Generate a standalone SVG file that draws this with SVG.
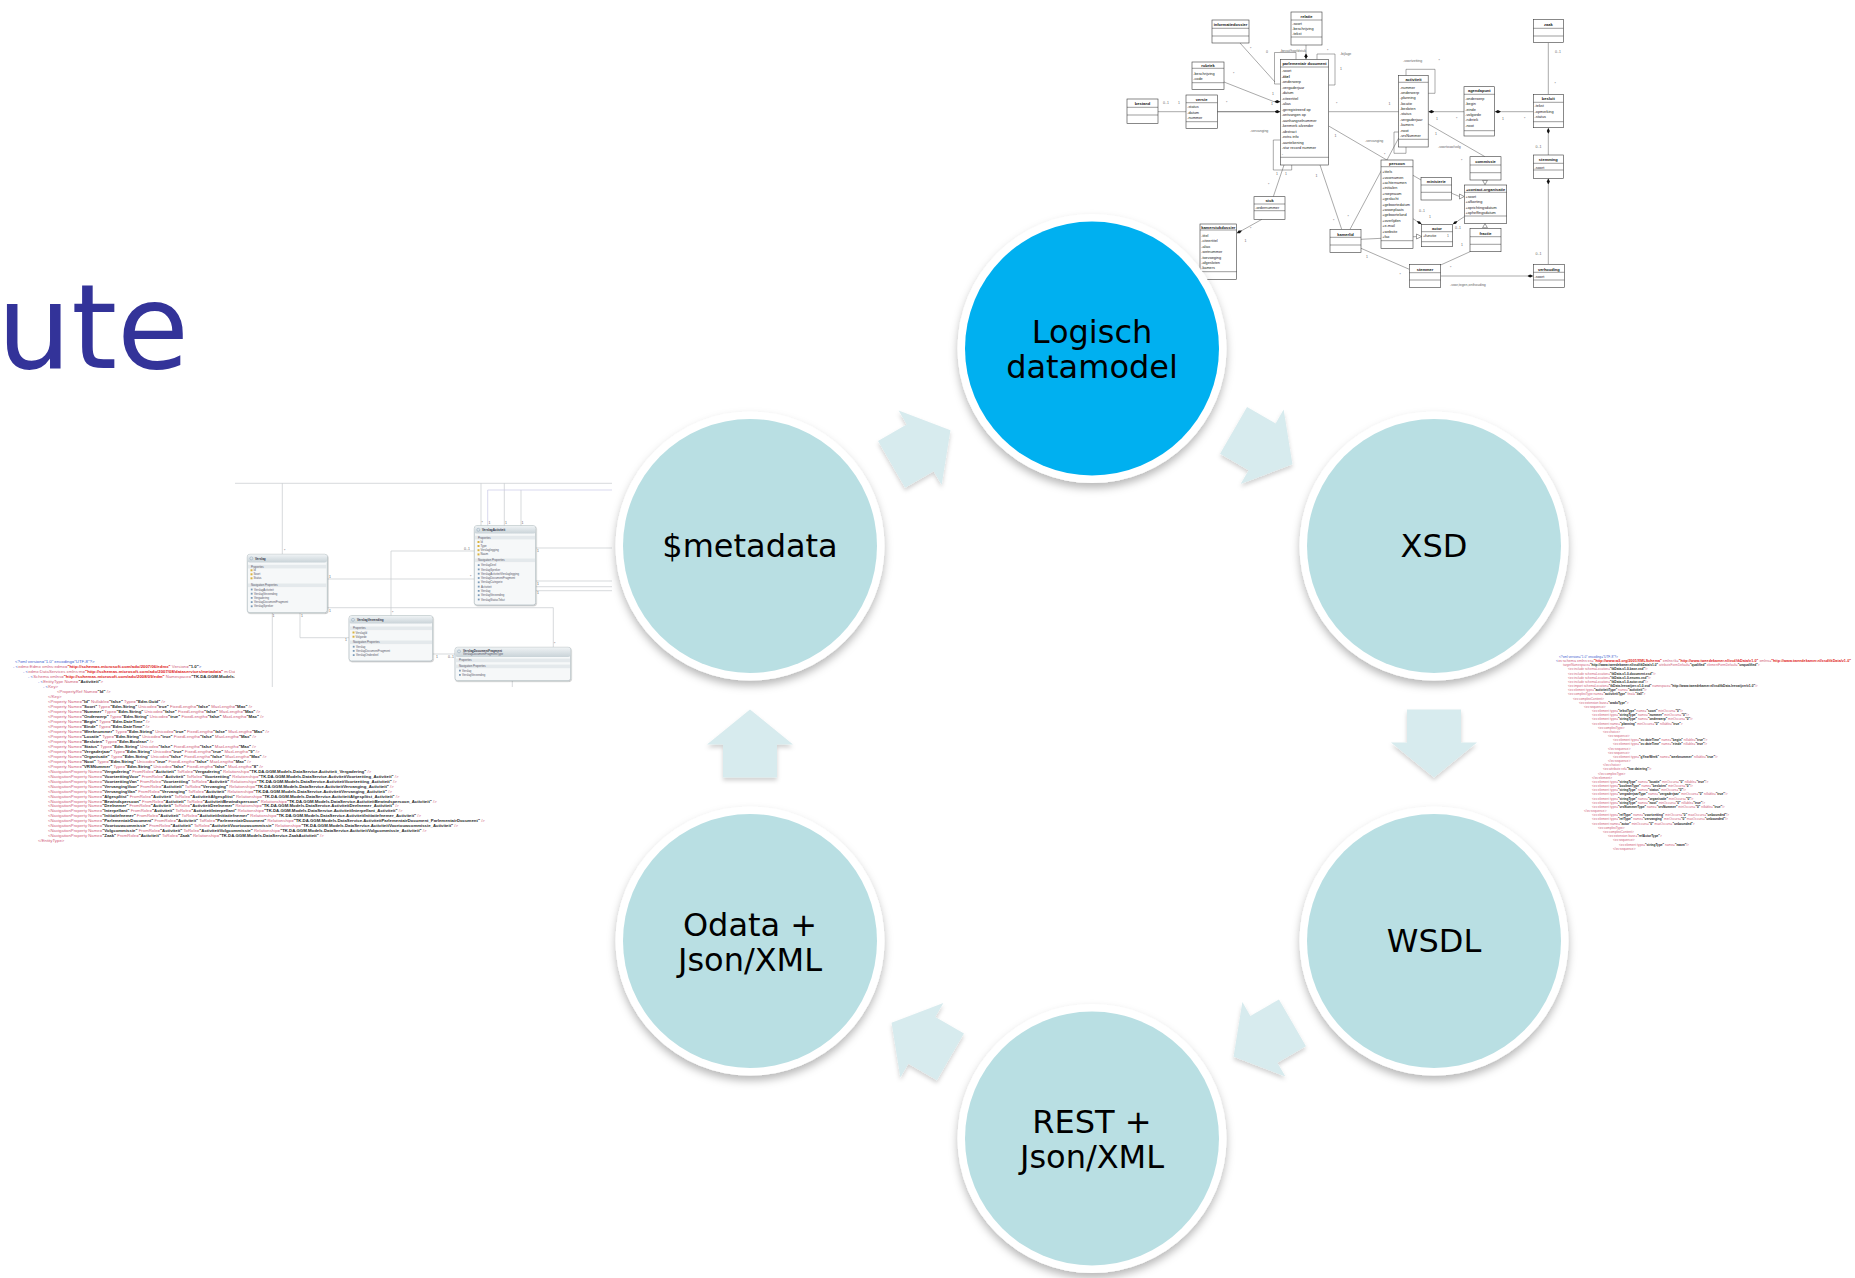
<svg xmlns="http://www.w3.org/2000/svg" width="1855" height="1278" viewBox="0 0 1855 1278">
<defs>
<style>
.lbl{font-family:"DejaVu Sans",Verdana,sans-serif;font-size:32px;fill:#000;text-anchor:middle}
.ttl{font-family:"DejaVu Sans",Verdana,sans-serif;font-size:117px;fill:#333399}
.ring{fill:#fff}
.tealc{fill:#b9dfe3}
.bluec{fill:#00b0f0}
.arr{fill:#d7ebee}
.ub{fill:#fff;stroke:#3a3a3a;stroke-width:.6}
.us{fill:none;stroke:#3a3a3a;stroke-width:.5}
.ul{fill:none;stroke:#555;stroke-width:.5}
.ut{font-family:"Liberation Sans",Arial,sans-serif;font-size:4px;font-weight:bold;text-anchor:middle;fill:#111}
.ua{font-family:"Liberation Sans",Arial,sans-serif;font-size:3.8px;fill:#222}
.um{font-family:"Liberation Sans",Arial,sans-serif;font-size:3.5px;fill:#666}
.dm{fill:#111}
.tri{fill:#fff;stroke:#3a3a3a;stroke-width:.5}
.eb{fill:#f6f8f9;stroke:#a3b0b6;stroke-width:.6}
.eh{fill:url(#eg)}
.band{fill:#e4e9ec}
.el{fill:none;stroke:#c6cacd;stroke-width:.7}
.et{font-family:"Liberation Sans",Arial,sans-serif;font-size:2.8px;fill:#556}
.etb{font-family:"Liberation Sans",Arial,sans-serif;font-size:3px;font-weight:bold;fill:#334}
.ic{fill:#d9b340}
.ic2{fill:#7a9ab8}
.x{font-family:"Liberation Sans",Arial,sans-serif;font-size:4.3px;fill:#d0607a}
.xs{font-family:"Liberation Sans",Arial,sans-serif;font-size:3.2px;fill:#d0607a}
.v{font-weight:bold;fill:#2a2a2a}
.r{font-weight:bold;fill:#e02020}
.b{fill:#4060d0}
</style>
<linearGradient id="eg" x1="0" y1="0" x2="0" y2="1"><stop offset="0" stop-color="#eef2f4"/><stop offset="1" stop-color="#c9d3d8"/></linearGradient>
<filter id="cs" x="-15%" y="-15%" width="130%" height="135%"><feDropShadow dx="0" dy="5" stdDeviation="4" flood-color="#000" flood-opacity=".28"/></filter>
<filter id="as" x="-20%" y="-20%" width="140%" height="150%"><feDropShadow dx="0" dy="3" stdDeviation="2" flood-color="#000" flood-opacity=".18"/></filter>
<filter id="es" x="-10%" y="-10%" width="120%" height="130%"><feDropShadow dx="0.6" dy="0.8" stdDeviation="0.6" flood-color="#000" flood-opacity=".3"/></filter>
<polygon id="arrow" points="34,0 -1,-43 -1,-27 -34,-27 -34,27 -1,27 -1,43"/>
</defs>
<rect x="0" y="0" width="1855" height="1278" fill="#fff"/>
<text class="ttl" x="-3" y="368">ute</text>

<!-- Left XML ($metadata) -->
<g id="xml-metadata" class="x">
<text x="15" y="663.3" class="b">&lt;?xml version="1.0" encoding="UTF-8"?&gt;</text>
<text x="13" y="668.3"><tspan class="b">- &lt;</tspan>edmx:Edmx xmlns:edmx=<tspan class="r">"http://schemas.microsoft.com/ado/2007/06/edmx"</tspan> Version=<tspan class="v">"1.0"</tspan><tspan class="b">&gt;</tspan></text>
<text x="23" y="673.2"><tspan class="b">- &lt;</tspan>edmx:DataServices xmlns:m=<tspan class="r">"http://schemas.microsoft.com/ado/2007/08/dataservices/metadata"</tspan> m:DataServiceVersion=<tspan class="v">"1.0"</tspan>&gt;</text>
<text x="28" y="678.2"><tspan class="b">- &lt;</tspan>Schema xmlns=<tspan class="r">"http://schemas.microsoft.com/ado/2008/09/edm"</tspan> Namespace=<tspan class="v">"TK.DA.GGM.Models.DataService"</tspan>&gt;</text>
<text x="38" y="683.2"><tspan class="b">- &lt;</tspan>EntityType Name=<tspan class="v">"Activiteit"</tspan>&gt;</text>
<text x="43" y="688.2"><tspan class="b">- &lt;</tspan>Key&gt;</text>
<text x="57" y="693.1">&lt;PropertyRef Name=<tspan class="v">"Id"</tspan> /&gt;</text>
<text x="48" y="698.1">&lt;/Key&gt;</text>
<text x="48" y="703.1">&lt;Property Name=<tspan class="v">"Id"</tspan> Nullable=<tspan class="v">"false"</tspan> Type=<tspan class="v">"Edm.Guid"</tspan> /&gt;</text>
<text x="48" y="708.0">&lt;Property Name=<tspan class="v">"Soort"</tspan> Type=<tspan class="v">"Edm.String"</tspan> Unicode=<tspan class="v">"true"</tspan> FixedLength=<tspan class="v">"false"</tspan> MaxLength=<tspan class="v">"Max"</tspan> /&gt;</text>
<text x="48" y="713.0">&lt;Property Name=<tspan class="v">"Nummer"</tspan> Type=<tspan class="v">"Edm.String"</tspan> Unicode=<tspan class="v">"false"</tspan> FixedLength=<tspan class="v">"false"</tspan> MaxLength=<tspan class="v">"Max"</tspan> /&gt;</text>
<text x="48" y="718.0">&lt;Property Name=<tspan class="v">"Onderwerp"</tspan> Type=<tspan class="v">"Edm.String"</tspan> Unicode=<tspan class="v">"true"</tspan> FixedLength=<tspan class="v">"false"</tspan> MaxLength=<tspan class="v">"Max"</tspan> /&gt;</text>
<text x="48" y="722.9">&lt;Property Name=<tspan class="v">"Begin"</tspan> Type=<tspan class="v">"Edm.DateTime"</tspan> /&gt;</text>
<text x="48" y="727.9">&lt;Property Name=<tspan class="v">"Einde"</tspan> Type=<tspan class="v">"Edm.DateTime"</tspan> /&gt;</text>
<text x="48" y="732.9">&lt;Property Name=<tspan class="v">"Weeknummer"</tspan> Type=<tspan class="v">"Edm.String"</tspan> Unicode=<tspan class="v">"true"</tspan> FixedLength=<tspan class="v">"false"</tspan> MaxLength=<tspan class="v">"Max"</tspan> /&gt;</text>
<text x="48" y="737.9">&lt;Property Name=<tspan class="v">"Locatie"</tspan> Type=<tspan class="v">"Edm.String"</tspan> Unicode=<tspan class="v">"true"</tspan> FixedLength=<tspan class="v">"false"</tspan> MaxLength=<tspan class="v">"Max"</tspan> /&gt;</text>
<text x="48" y="742.8">&lt;Property Name=<tspan class="v">"Besloten"</tspan> Type=<tspan class="v">"Edm.Boolean"</tspan> /&gt;</text>
<text x="48" y="747.8">&lt;Property Name=<tspan class="v">"Status"</tspan> Type=<tspan class="v">"Edm.String"</tspan> Unicode=<tspan class="v">"false"</tspan> FixedLength=<tspan class="v">"false"</tspan> MaxLength=<tspan class="v">"Max"</tspan> /&gt;</text>
<text x="48" y="752.8">&lt;Property Name=<tspan class="v">"Vergaderjaar"</tspan> Type=<tspan class="v">"Edm.String"</tspan> Unicode=<tspan class="v">"true"</tspan> FixedLength=<tspan class="v">"true"</tspan> MaxLength=<tspan class="v">"9"</tspan> /&gt;</text>
<text x="48" y="757.7">&lt;Property Name=<tspan class="v">"Organisatie"</tspan> Type=<tspan class="v">"Edm.String"</tspan> Unicode=<tspan class="v">"false"</tspan> FixedLength=<tspan class="v">"false"</tspan> MaxLength=<tspan class="v">"Max"</tspan> /&gt;</text>
<text x="48" y="762.7">&lt;Property Name=<tspan class="v">"Noot"</tspan> Type=<tspan class="v">"Edm.String"</tspan> Unicode=<tspan class="v">"true"</tspan> FixedLength=<tspan class="v">"false"</tspan> MaxLength=<tspan class="v">"Max"</tspan> /&gt;</text>
<text x="48" y="767.7">&lt;Property Name=<tspan class="v">"VRSNummer"</tspan> Type=<tspan class="v">"Edm.String"</tspan> Unicode=<tspan class="v">"false"</tspan> FixedLength=<tspan class="v">"false"</tspan> MaxLength=<tspan class="v">"8"</tspan> /&gt;</text>
<text x="48" y="772.6">&lt;NavigationProperty Name=<tspan class="v">"Vergadering"</tspan> FromRole=<tspan class="v">"Activiteit"</tspan> ToRole=<tspan class="v">"Vergadering"</tspan> Relationship=<tspan class="v">"TK.DA.GGM.Models.DataService.Activiteit_Vergadering"</tspan> /&gt;</text>
<text x="48" y="777.6">&lt;NavigationProperty Name=<tspan class="v">"VoortzettingVoor"</tspan> FromRole=<tspan class="v">"Activiteit"</tspan> ToRole=<tspan class="v">"Voortzetting"</tspan> Relationship=<tspan class="v">"TK.DA.GGM.Models.DataService.ActiviteitVoortzetting_Activiteit"</tspan> /&gt;</text>
<text x="48" y="782.6">&lt;NavigationProperty Name=<tspan class="v">"VoortzettingVan"</tspan> FromRole=<tspan class="v">"Voortzetting"</tspan> ToRole=<tspan class="v">"Activiteit"</tspan> Relationship=<tspan class="v">"TK.DA.GGM.Models.DataService.ActiviteitVoortzetting_Activiteit"</tspan> /&gt;</text>
<text x="48" y="787.6">&lt;NavigationProperty Name=<tspan class="v">"VervangingVoor"</tspan> FromRole=<tspan class="v">"Activiteit"</tspan> ToRole=<tspan class="v">"Vervanging"</tspan> Relationship=<tspan class="v">"TK.DA.GGM.Models.DataService.ActiviteitVervanging_Activiteit"</tspan> /&gt;</text>
<text x="48" y="792.5">&lt;NavigationProperty Name=<tspan class="v">"VervangingVan"</tspan> FromRole=<tspan class="v">"Vervanging"</tspan> ToRole=<tspan class="v">"Activiteit"</tspan> Relationship=<tspan class="v">"TK.DA.GGM.Models.DataService.ActiviteitVervanging_Activiteit"</tspan> /&gt;</text>
<text x="48" y="797.5">&lt;NavigationProperty Name=<tspan class="v">"Afgesplitst"</tspan> FromRole=<tspan class="v">"Activiteit"</tspan> ToRole=<tspan class="v">"ActiviteitAfgesplitst"</tspan> Relationship=<tspan class="v">"TK.DA.GGM.Models.DataService.ActiviteitAfgesplitst_Activiteit"</tspan> /&gt;</text>
<text x="48" y="802.5">&lt;NavigationProperty Name=<tspan class="v">"Bewindspersoon"</tspan> FromRole=<tspan class="v">"Activiteit"</tspan> ToRole=<tspan class="v">"ActiviteitBewindspersoon"</tspan> Relationship=<tspan class="v">"TK.DA.GGM.Models.DataService.ActiviteitBewindspersoon_Activiteit"</tspan> /&gt;</text>
<text x="48" y="807.4">&lt;NavigationProperty Name=<tspan class="v">"Deelnemer"</tspan> FromRole=<tspan class="v">"Activiteit"</tspan> ToRole=<tspan class="v">"ActiviteitDeelnemer"</tspan> Relationship=<tspan class="v">"TK.DA.GGM.Models.DataService.ActiviteitDeelnemer_Activiteit"</tspan> /&gt;</text>
<text x="48" y="812.4">&lt;NavigationProperty Name=<tspan class="v">"Interpellant"</tspan> FromRole=<tspan class="v">"Activiteit"</tspan> ToRole=<tspan class="v">"ActiviteitInterpellant"</tspan> Relationship=<tspan class="v">"TK.DA.GGM.Models.DataService.ActiviteitInterpellant_Activiteit"</tspan> /&gt;</text>
<text x="48" y="817.4">&lt;NavigationProperty Name=<tspan class="v">"Initiatiefnemer"</tspan> FromRole=<tspan class="v">"Activiteit"</tspan> ToRole=<tspan class="v">"ActiviteitInitiatiefnemer"</tspan> Relationship=<tspan class="v">"TK.DA.GGM.Models.DataService.ActiviteitInitiatiefnemer_Activiteit"</tspan> /&gt;</text>
<text x="48" y="822.3">&lt;NavigationProperty Name=<tspan class="v">"ParlementairDocument"</tspan> FromRole=<tspan class="v">"Activiteit"</tspan> ToRole=<tspan class="v">"ParlementairDocument"</tspan> Relationship=<tspan class="v">"TK.DA.GGM.Models.DataService.ActiviteitParlementairDocument_ParlementairDocument"</tspan> /&gt;</text>
<text x="48" y="827.3">&lt;NavigationProperty Name=<tspan class="v">"Voortouwcommissie"</tspan> FromRole=<tspan class="v">"Activiteit"</tspan> ToRole=<tspan class="v">"ActiviteitVoortouwcommissie"</tspan> Relationship=<tspan class="v">"TK.DA.GGM.Models.DataService.ActiviteitVoortouwcommissie_Activiteit"</tspan> /&gt;</text>
<text x="48" y="832.3">&lt;NavigationProperty Name=<tspan class="v">"Volgcommissie"</tspan> FromRole=<tspan class="v">"Activiteit"</tspan> ToRole=<tspan class="v">"ActiviteitVolgcommissie"</tspan> Relationship=<tspan class="v">"TK.DA.GGM.Models.DataService.ActiviteitVolgcommissie_Activiteit"</tspan> /&gt;</text>
<text x="48" y="837.3">&lt;NavigationProperty Name=<tspan class="v">"Zaak"</tspan> FromRole=<tspan class="v">"Activiteit"</tspan> ToRole=<tspan class="v">"Zaak"</tspan> Relationship=<tspan class="v">"TK.DA.GGM.Models.DataService.ZaakActiviteit"</tspan> /&gt;</text>
<text x="38" y="842.2">&lt;/EntityType&gt;</text>
</g>

<!-- Left entity diagram -->
<g id="entity-diagram">
<rect x="235" y="483" width="377" height="204" fill="#fff"/>
<path class="el" d="M235 483.3H612"/>
<path class="el" d="M282.3 483.3V554.3M481 483.3V525.7M504.3 483.3V525.7M521 490V525.7M535.7 548H612M535.7 581H612M535.7 586.7H612M535.7 590.7H612M327.3 579H474.3M474.3 551H391V615.7M327.3 607.7H553.3V647.3M300 612.7V637.7H349M272.3 612.7V687M432.7 654H455M512.3 680.7V687"/>
<path d="M487.7 525.7V490H612" fill="none" stroke="#c9c9e6" stroke-width=".7"/>
<g class="um" font-size="2.8">
<text x="284" y="552">*</text><text x="464" y="550">0..1</text><text x="329" y="577.6">1</text><text x="470" y="577.6">*</text><text x="329" y="611.5">1</text><text x="272.5" y="616.5">1</text><text x="301" y="616.5">1</text><text x="392" y="614">*</text><text x="345" y="641">1</text><text x="436" y="658">1</text><text x="448" y="658">0..1</text><text x="554" y="645">*</text><text x="481.5" y="524">*</text><text x="488.5" y="524">1</text><text x="505" y="524">1</text><text x="521.5" y="524">1</text><text x="537" y="552">1</text><text x="537" y="584.5">1</text><text x="537" y="594">1</text>
</g>
<g id="e-verslag" filter="url(#es)">
<rect x="247.3" y="554.3" width="80" height="58.4" rx="2.5" class="eb"/>
<rect x="247.6" y="554.6" width="79.4" height="7.8" rx="2.2" class="eh"/>
</g>
<circle cx="251.3" cy="558.4" r="1.5" fill="none" stroke="#7a98b0" stroke-width=".4"/>
<text class="etb" x="255" y="559.6">Verslag</text>
<rect x="248" y="564.8" width="78.6" height="3.6" class="band"/><text class="et" x="251" y="567.6">Properties</text>
<rect x="250.5" y="569.3" width="2" height="2" class="ic"/><text class="et" x="253.5" y="571.4">Id</text>
<rect x="250.5" y="573.3" width="2" height="2" class="ic"/><text class="et" x="253.5" y="575.4">Soort</text>
<rect x="250.5" y="577.3" width="2" height="2" class="ic"/><text class="et" x="253.5" y="579.4">Status</text>
<rect x="248" y="583.5" width="78.6" height="3.6" class="band"/><text class="et" x="251" y="586.3">Navigation Properties</text>
<g class="et"><text x="254" y="590.6">VerslagActiviteit</text><text x="254" y="594.8">VerslagVerzending</text><text x="254" y="599">Vergadering</text><text x="254" y="603.2">VerslagDocumentFragment</text><text x="254" y="607.4">VerslagSpreker</text></g>
<g class="ic2"><rect x="250.8" y="588.6" width="1.8" height="1.8"/><rect x="250.8" y="592.8" width="1.8" height="1.8"/><rect x="250.8" y="597" width="1.8" height="1.8"/><rect x="250.8" y="601.2" width="1.8" height="1.8"/><rect x="250.8" y="605.4" width="1.8" height="1.8"/></g>

<g id="e-verslagactiviteit" filter="url(#es)">
<rect x="474.3" y="525.7" width="61.4" height="79.3" rx="2.5" class="eb"/>
<rect x="474.6" y="526" width="60.8" height="7.6" rx="2.2" class="eh"/>
</g>
<circle cx="478.3" cy="529.8" r="1.5" fill="none" stroke="#7a98b0" stroke-width=".4"/>
<text class="etb" x="482" y="531">VerslagActiviteit</text>
<rect x="475" y="535.8" width="60" height="3.6" class="band"/><text class="et" x="478" y="538.6">Properties</text>
<g class="ic"><rect x="477.5" y="541" width="2" height="2"/><rect x="477.5" y="545" width="2" height="2"/><rect x="477.5" y="549.2" width="2" height="2"/><rect x="477.5" y="553.4" width="2" height="2"/></g>
<g class="et"><text x="480.5" y="543">Id</text><text x="480.5" y="547">Type</text><text x="480.5" y="551.2">Verslaglegging</text><text x="480.5" y="555.4">Naam</text></g>
<rect x="475" y="558.5" width="60" height="3.6" class="band"/><text class="et" x="478" y="561.3">Navigation Properties</text>
<g class="et"><text x="481" y="566.2">VerslagDeel</text><text x="481" y="570.5">VerslagSpreker</text><text x="481" y="574.8">VerslagActiviteitVerslaglegging</text><text x="481" y="579.1">VerslagDocumentFragment</text><text x="481" y="583.4">VerslagCategorie</text><text x="481" y="587.7">Activiteit</text><text x="481" y="592">Verslag</text><text x="481" y="596.3">VerslagVerzending</text><text x="481" y="600.6">VerslagStatusTekst</text></g>
<g class="ic2"><rect x="477.8" y="564.2" width="1.8" height="1.8"/><rect x="477.8" y="568.5" width="1.8" height="1.8"/><rect x="477.8" y="572.8" width="1.8" height="1.8"/><rect x="477.8" y="577.1" width="1.8" height="1.8"/><rect x="477.8" y="581.4" width="1.8" height="1.8"/><rect x="477.8" y="585.7" width="1.8" height="1.8"/><rect x="477.8" y="590" width="1.8" height="1.8"/><rect x="477.8" y="594.3" width="1.8" height="1.8"/><rect x="477.8" y="598.6" width="1.8" height="1.8"/></g>

<g id="e-verslagverzending" filter="url(#es)">
<rect x="349" y="615.7" width="83.7" height="45.3" rx="2.5" class="eb"/>
<rect x="349.3" y="616" width="83.1" height="7.6" rx="2.2" class="eh"/>
</g>
<circle cx="353" cy="619.8" r="1.5" fill="none" stroke="#7a98b0" stroke-width=".4"/>
<text class="etb" x="357" y="621">VerslagVerzending</text>
<rect x="349.7" y="626.5" width="82.3" height="3.6" class="band"/><text class="et" x="353" y="629.2">Properties</text>
<g class="ic"><rect x="352.5" y="631.5" width="2" height="2"/><rect x="352.5" y="635.7" width="2" height="2"/></g>
<g class="et"><text x="355.5" y="633.5">VerslagId</text><text x="355.5" y="637.7">Volgorde</text></g>
<rect x="349.7" y="640.5" width="82.3" height="3.6" class="band"/><text class="et" x="353" y="643.2">Navigation Properties</text>
<g class="et"><text x="356" y="647.8">Verslag</text><text x="356" y="652">VerslagDocumentFragment</text><text x="356" y="656.2">VerslagOnderdeel</text></g>
<g class="ic2"><rect x="352.8" y="645.8" width="1.8" height="1.8"/><rect x="352.8" y="650" width="1.8" height="1.8"/><rect x="352.8" y="654.2" width="1.8" height="1.8"/></g>

<g id="e-verslagdocumentfragment" filter="url(#es)">
<rect x="455" y="647.3" width="115.7" height="33.4" rx="2.5" class="eb"/>
<rect x="455.3" y="647.6" width="115.1" height="9.4" rx="2.2" class="eh"/>
</g>
<circle cx="459" cy="651.4" r="1.5" fill="none" stroke="#7a98b0" stroke-width=".4"/>
<text class="etb" x="463" y="651.6">VerslagDocumentFragment</text>
<text class="et" x="463" y="655.4">VerslagDocumentFragmentType</text>
<rect x="455.7" y="658.6" width="114.3" height="3.6" class="band"/><text class="et" x="459" y="661.3">Properties</text>
<rect x="455.7" y="664.6" width="114.3" height="3.6" class="band"/><text class="et" x="459" y="667.3">Navigation Properties</text>
<g class="et"><text x="462" y="671.7">Verslag</text><text x="462" y="676">VerslagVerzending</text></g>
<g class="ic2"><rect x="459" y="669.7" width="1.8" height="1.8"/><rect x="459" y="674" width="1.8" height="1.8"/></g>
</g>

<!-- Right XML (XSD) -->
<g id="xml-xsd" class="xs">
<text x="1559" y="657.8" class="b">&lt;?xml version="1.0" encoding="UTF-8"?&gt;</text>
<text x="1556" y="662.0" textLength="295" lengthAdjust="spacingAndGlyphs"><tspan class="b">&lt;</tspan>xs:schema xmlns:xs=<tspan class="r">"http://www.w3.org/2001/XMLSchema"</tspan> xmlns:tk=<tspan class="r">"http://www.tweedekamer.nl/xsd/tkData/v1-0"</tspan> xmlns=<tspan class="r">"http://www.tweedekamer.nl/xsd/tkData/v1-0"</tspan></text>
<text x="1563" y="666.1">targetNamespace=<tspan class="v">"http://www.tweedekamer.nl/xsd/tkData/v1-0"</tspan> attributeFormDefault=<tspan class="v">"qualified"</tspan> elementFormDefault=<tspan class="v">"unqualified"</tspan>&gt;</text>
<text x="1568" y="670.3">&lt;xs:include schemaLocation=<tspan class="v">"tkData-v1-0-base.xsd"</tspan>/&gt;</text>
<text x="1568" y="674.5">&lt;xs:include schemaLocation=<tspan class="v">"tkData-v1-0-document.xsd"</tspan>/&gt;</text>
<text x="1568" y="678.7">&lt;xs:include schemaLocation=<tspan class="v">"tkData-v1-0-enums.xsd"</tspan>/&gt;</text>
<text x="1568" y="682.8">&lt;xs:include schemaLocation=<tspan class="v">"tkData-v1-0-actor.xsd"</tspan>/&gt;</text>
<text x="1568" y="687.0">&lt;xs:import schemaLocation=<tspan class="v">"tkData-leeswijzer-v1-0.xsd"</tspan> namespace=<tspan class="v">"http://www.tweedekamer.nl/xsd/tkData-leeswijzer/v1-0"</tspan>/&gt;</text>
<text x="1568" y="691.2">&lt;xs:element type=<tspan class="v">"activiteitType"</tspan> name=<tspan class="v">"activiteit"</tspan>/&gt;</text>
<text x="1568" y="695.3">&lt;xs:complexType name=<tspan class="v">"activiteitType"</tspan> final=<tspan class="v">"#all"</tspan>&gt;</text>
<text x="1573" y="699.5">&lt;xs:complexContent&gt;</text>
<text x="1579" y="703.7">&lt;xs:extension base=<tspan class="v">"wadoType"</tspan>&gt;</text>
<text x="1584" y="707.8">&lt;xs:sequence&gt;</text>
<text x="1592" y="712.0">&lt;xs:element type=<tspan class="v">"tekstType"</tspan> name=<tspan class="v">"soort"</tspan> minOccurs=<tspan class="v">"0"</tspan>/&gt;</text>
<text x="1592" y="716.2">&lt;xs:element type=<tspan class="v">"stringType"</tspan> name=<tspan class="v">"nummer"</tspan> minOccurs=<tspan class="v">"0"</tspan>/&gt;</text>
<text x="1592" y="720.4">&lt;xs:element type=<tspan class="v">"stringType"</tspan> name=<tspan class="v">"onderwerp"</tspan> minOccurs=<tspan class="v">"0"</tspan>/&gt;</text>
<text x="1592" y="724.5">&lt;xs:element name=<tspan class="v">"planning"</tspan> minOccurs=<tspan class="v">"0"</tspan> nillable=<tspan class="v">"true"</tspan>&gt;</text>
<text x="1598" y="728.7">&lt;xs:complexType&gt;</text>
<text x="1603" y="732.9">&lt;xs:choice&gt;</text>
<text x="1608" y="737.0">&lt;xs:sequence&gt;</text>
<text x="1613" y="741.2">&lt;xs:element type=<tspan class="v">"xs:dateTime"</tspan> name=<tspan class="v">"begin"</tspan> nillable=<tspan class="v">"true"</tspan>/&gt;</text>
<text x="1613" y="745.4">&lt;xs:element type=<tspan class="v">"xs:dateTime"</tspan> name=<tspan class="v">"einde"</tspan> nillable=<tspan class="v">"true"</tspan>/&gt;</text>
<text x="1608" y="749.5">&lt;/xs:sequence&gt;</text>
<text x="1608" y="753.7">&lt;xs:sequence&gt;</text>
<text x="1613" y="757.9">&lt;xs:element type=<tspan class="v">"gYearWeek"</tspan> name=<tspan class="v">"weeknummer"</tspan> nillable=<tspan class="v">"true"</tspan>/&gt;</text>
<text x="1608" y="762.1">&lt;/xs:sequence&gt;</text>
<text x="1603" y="766.2">&lt;/xs:choice&gt;</text>
<text x="1603" y="770.4">&lt;xs:attribute ref=<tspan class="v">"lsw:datering"</tspan>/&gt;</text>
<text x="1598" y="774.6">&lt;/xs:complexType&gt;</text>
<text x="1592" y="778.7">&lt;/xs:element&gt;</text>
<text x="1592" y="782.9">&lt;xs:element type=<tspan class="v">"stringType"</tspan> name=<tspan class="v">"locatie"</tspan> minOccurs=<tspan class="v">"0"</tspan> nillable=<tspan class="v">"true"</tspan>/&gt;</text>
<text x="1592" y="787.1">&lt;xs:element type=<tspan class="v">"booleanType"</tspan> name=<tspan class="v">"besloten"</tspan> minOccurs=<tspan class="v">"0"</tspan>/&gt;</text>
<text x="1592" y="791.2">&lt;xs:element type=<tspan class="v">"stringType"</tspan> name=<tspan class="v">"status"</tspan> minOccurs=<tspan class="v">"0"</tspan>/&gt;</text>
<text x="1592" y="795.4">&lt;xs:element type=<tspan class="v">"vergaderjaarType"</tspan> name=<tspan class="v">"vergaderjaar"</tspan> minOccurs=<tspan class="v">"0"</tspan> nillable=<tspan class="v">"true"</tspan>/&gt;</text>
<text x="1592" y="799.6">&lt;xs:element type=<tspan class="v">"stringType"</tspan> name=<tspan class="v">"organisatie"</tspan> minOccurs=<tspan class="v">"0"</tspan>/&gt;</text>
<text x="1592" y="803.8">&lt;xs:element type=<tspan class="v">"stringType"</tspan> name=<tspan class="v">"noot"</tspan> minOccurs=<tspan class="v">"0"</tspan> nillable=<tspan class="v">"true"</tspan>/&gt;</text>
<text x="1592" y="807.9">&lt;xs:element type=<tspan class="v">"vrsNummerType"</tspan> name=<tspan class="v">"vrsNummer"</tspan> minOccurs=<tspan class="v">"0"</tspan> nillable=<tspan class="v">"true"</tspan>/&gt;</text>
<text x="1584" y="812.1">&lt;/xs:sequence&gt;</text>
<text x="1592" y="816.3">&lt;xs:element type=<tspan class="v">"refType"</tspan> name=<tspan class="v">"voortzetting"</tspan> minOccurs=<tspan class="v">"0"</tspan> maxOccurs=<tspan class="v">"unbounded"</tspan>/&gt;</text>
<text x="1592" y="820.4">&lt;xs:element type=<tspan class="v">"refType"</tspan> name=<tspan class="v">"vervanging"</tspan> minOccurs=<tspan class="v">"0"</tspan> maxOccurs=<tspan class="v">"unbounded"</tspan>/&gt;</text>
<text x="1592" y="824.6">&lt;xs:element name=<tspan class="v">"actor"</tspan> minOccurs=<tspan class="v">"0"</tspan> maxOccurs=<tspan class="v">"unbounded"</tspan>&gt;</text>
<text x="1598" y="828.8">&lt;xs:complexType&gt;</text>
<text x="1603" y="832.9">&lt;xs:complexContent&gt;</text>
<text x="1608" y="837.1">&lt;xs:extension base=<tspan class="v">"refActorType"</tspan>&gt;</text>
<text x="1613" y="841.3">&lt;xs:sequence&gt;</text>
<text x="1619" y="845.5">&lt;xs:element type=<tspan class="v">"stringType"</tspan> name=<tspan class="v">"naam"</tspan>/&gt;</text>
<text x="1613" y="849.6">&lt;/xs:sequence&gt;</text>
</g>

<!-- UML logical data model (top right) -->
<g id="uml-datamodel">
<g id="uml-lines">
<path class="ul" d="M1306 45V53M1281 84H1274.5V52.5H1296V59.5M1317 59.5V54H1335V85H1328.5M1240 43L1275 82M1224 82L1274 101.7M1274 111.7H1158M1217.3 111.7H1274M1280.5 140H1273.3V170H1291.7V165M1284 165L1273.3 196.7M1262 219.3L1241 231M1320 165L1341.7 229.3M1328.7 111.7H1398.7M1328.7 126L1421 180M1406 75.5V69.3H1435V93.3H1428.2M1398.7 132H1394V153.3H1406V147M1434.7 111.7H1464M1501.2 111.7H1533.3M1548.3 42.7V94.3M1548.3 134.1V155M1548.3 184.7V264.3M1440.7 276H1527M1428.2 124L1485 156.7M1485 180V180.3M1451.7 193.3L1459.5 196.5M1485 227.8V228.3M1412.3 218.3L1416.6 221M1457.7 221L1464.3 216.7M1361 239.3L1416.5 236.6M1361 248.3L1409.3 269.3M1440.7 265L1470 251.7M1398.7 138L1350 229.3"/>
<g class="dm">
<polygon points="1306,53 1307.5,56.2 1306,59.5 1304.5,56.2"/>
<polygon points="1274,101.7 1277.2,100.1 1280.5,101.7 1277.2,103.3"/>
<polygon points="1274,111.7 1277.2,110.1 1280.5,111.7 1277.2,113.3"/>
<polygon points="1236.7,233.3 1238.57,230.54 1241.95,230.4 1240.03,233.16"/>
<polygon points="1428.2,111.7 1431.5,110.1 1434.7,111.7 1431.5,113.3"/>
<polygon points="1494.7,111.7 1497.9,110.1 1501.2,111.7 1497.9,113.3"/>
<polygon points="1548.3,127.7 1549.8,130.9 1548.3,134.1 1546.8,130.9"/>
<polygon points="1548.3,178.3 1549.8,181.5 1548.3,184.7 1546.8,181.5"/>
<polygon points="1527,276 1530.2,274.4 1533.3,276 1530.2,277.6"/>
<polygon points="1421.7,224.3 1419.92,221.51 1416.64,221.07 1418.42,223.87"/>
<polygon points="1452.7,224.3 1454.44,221.49 1457.72,221.01 1455.98,223.83"/>
</g>
<polygon class="tri" points="1482.6,180.3 1487.4,180.3 1485,184.8"/>
<polygon class="tri" points="1459.5,194 1459.5,199 1464.2,196.5"/>
<polygon class="tri" points="1482.6,227.8 1487.4,227.8 1485,223.5"/>
<polygon class="tri" points="1416.5,234 1416.5,239 1421.6,236.5"/>
<g class="um">
<text x="1163" y="104">0..1</text><text x="1178" y="104">1</text><text x="1226" y="104">*</text><text x="1233" y="75">*</text><text x="1272" y="94.5">1</text><text x="1271" y="105">1</text><text x="1250" y="50">*</text><text x="1266" y="52.5">0</text><text x="1280" y="52">-bevat/hoofdstuk</text><text x="1327" y="52">*</text><text x="1340" y="54.5">-bijlage</text><text x="1340" y="69.5">1</text><text x="1336" y="105">*</text><text x="1388.5" y="105">1</text><text x="1250" y="131.5">-vervanging</text><text x="1276" y="175">1</text><text x="1285" y="175">1</text><text x="1268" y="186">*</text><text x="1315.5" y="176.5">1</text><text x="1250" y="229.5">*</text><text x="1244.5" y="241.5">1</text><text x="1334.5" y="137">1</text><text x="1365" y="141.5">-vervanging</text><text x="1403" y="61.5">-voortzetting</text><text x="1438.5" y="61.5">*</text><text x="1436" y="120">1</text><text x="1456" y="120">*</text><text x="1502" y="120">1</text><text x="1524" y="120">*</text><text x="1555" y="53">0..1</text><text x="1554.5" y="85">*</text><text x="1535.5" y="148">0..1</text><text x="1535.5" y="255">0..1</text><text x="1450" y="285.5">-voor,tegen,onthouding</text><text x="1435" y="134.5">1</text><text x="1438" y="148">-voortouw/volg</text><text x="1461" y="161.5">*</text><text x="1333" y="221.5">*</text><text x="1347.5" y="217.5">*</text><text x="1419" y="211.5">0..1</text><text x="1429" y="218">1</text><text x="1455" y="229">0..1</text><text x="1366" y="258">1</text><text x="1399.5" y="276">*</text><text x="1450" y="268.5">*</text><text x="1461" y="245.5">1</text><text x="1384" y="156">*</text>
</g>
</g>

<g id="uml-informatiedossier"><rect x="1212" y="20" width="37" height="23" class="ub"/><path class="us" d="M1212 28.3h37M1212 36h37"/><text class="ut" x="1230.5" y="26.2">informatiedossier</text></g>
<g id="uml-relatie"><rect x="1291" y="12" width="31" height="33" class="ub"/><path class="us" d="M1291 20h31M1291 37h31"/><text class="ut" x="1306.5" y="18">relatie</text><g class="ua"><text x="1292.2" y="24.5">-soort</text><text x="1292.2" y="30">-beschrijving</text><text x="1292.2" y="35.3">-tekst</text></g></g>
<g id="uml-rubriek"><rect x="1192" y="62" width="32" height="27.3" class="ub"/><path class="us" d="M1192 68.3h32M1192 82.7h32"/><text class="ut" x="1208" y="66.7">rubriek</text><g class="ua"><text x="1193.2" y="74.5">-beschrijving</text><text x="1193.2" y="80.2">-code</text></g></g>
<g id="uml-bestand"><rect x="1127" y="99" width="31" height="24.3" class="ub"/><path class="us" d="M1127 107.3h31M1127 115h31"/><text class="ut" x="1142.5" y="105.2">bestand</text></g>
<g id="uml-versie"><rect x="1186" y="95" width="31.3" height="33.3" class="ub"/><path class="us" d="M1186 102.7h31.3M1186 121.7h31.3"/><text class="ut" x="1201.6" y="101">versie</text><g class="ua"><text x="1187.2" y="108">-status</text><text x="1187.2" y="113.6">-datum</text><text x="1187.2" y="119">-nummer</text></g></g>
<g id="uml-parlementair-document"><rect x="1280.5" y="59.5" width="48" height="105.5" class="ub"/><path class="us" d="M1280.5 67h48M1280.5 157.3h48"/><text class="ut" x="1304.5" y="65.3">parlementair document</text><g class="ua"><text x="1281.7" y="72.4">-soort</text><text x="1281.7" y="77.9" font-weight="bold">-titel</text><text x="1281.7" y="83.4">-onderwerp</text><text x="1281.7" y="88.9">-vergaderjaar</text><text x="1281.7" y="94.4">-datum</text><text x="1281.7" y="99.9">-citeertitel</text><text x="1281.7" y="105.4">-alias</text><text x="1281.7" y="110.9">-geregistreerd op</text><text x="1281.7" y="116.4">-ontvangen op</text><text x="1281.7" y="121.9">-aanhangselnummer</text><text x="1281.7" y="127.4">-kenmerk afzender</text><text x="1281.7" y="132.9">-abstract</text><text x="1281.7" y="138.4">-extra info</text><text x="1281.7" y="143.9">-aantekening</text><text x="1281.7" y="149.4">-star record nummer</text><text x="1281.7" y="154.7">-</text></g></g>
<g id="uml-activiteit"><rect x="1398.7" y="75.5" width="29.5" height="71.5" class="ub"/><path class="us" d="M1398.7 82.3h29.5M1398.7 139.3h29.5"/><text class="ut" x="1413.5" y="80.7">activiteit</text><g class="ua"><text x="1399.9" y="88.7">-nummer</text><text x="1399.9" y="94">-onderwerp</text><text x="1399.9" y="99.4">-planning</text><text x="1399.9" y="104.7">-locatie</text><text x="1399.9" y="110.1">-besloten</text><text x="1399.9" y="115.4">-status</text><text x="1399.9" y="120.8">-vergaderjaar</text><text x="1399.9" y="126.1">-kamers</text><text x="1399.9" y="131.5">-noot</text><text x="1399.9" y="136.8">-vrsNummer</text></g></g>
<g id="uml-agendapunt"><rect x="1464" y="86.7" width="30.7" height="49.3" class="ub"/><path class="us" d="M1464 94.3h30.7M1464 130.7h30.7"/><text class="ut" x="1479.3" y="92.2">agendapunt</text><g class="ua"><text x="1465.2" y="99.7">-onderwerp</text><text x="1465.2" y="105.1">-begin</text><text x="1465.2" y="110.5">-einde</text><text x="1465.2" y="115.9">-volgorde</text><text x="1465.2" y="121.3">-rubriek</text><text x="1465.2" y="126.7">-noot</text></g></g>
<g id="uml-zaak"><rect x="1533.3" y="19.3" width="30" height="23.4" class="ub"/><path class="us" d="M1533.3 28.3h30M1533.3 36h30"/><text class="ut" x="1548.3" y="25.8">zaak</text></g>
<g id="uml-besluit"><rect x="1533.3" y="94.3" width="30" height="33.4" class="ub"/><path class="us" d="M1533.3 102.3h30M1533.3 121.7h30"/><text class="ut" x="1548.3" y="100.4">besluit</text><g class="ua"><text x="1534.5" y="107.4">-tekst</text><text x="1534.5" y="112.6">-opmerking</text><text x="1534.5" y="118">-status</text></g></g>
<g id="uml-stemming"><rect x="1533.3" y="155" width="30" height="23.3" class="ub"/><path class="us" d="M1533.3 163.3h30M1533.3 170h30"/><text class="ut" x="1548.3" y="161.2">stemming</text><text class="ua" x="1534.5" y="168.5">-soort</text></g>
<g id="uml-verhouding"><rect x="1533.3" y="264.3" width="31" height="23" class="ub"/><path class="us" d="M1533.3 272.3h31M1533.3 280h31"/><text class="ut" x="1548.8" y="270.5">verhouding</text><text class="ua" x="1534.5" y="278">-soort</text></g>
<g id="uml-commissie"><rect x="1470" y="156.7" width="31" height="23.3" class="ub"/><path class="us" d="M1470 165h31M1470 172.7h31"/><text class="ut" x="1485.5" y="163">commissie</text></g>
<g id="uml-ministerie"><rect x="1421" y="177.3" width="30.7" height="22.7" class="ub"/><path class="us" d="M1421 185h30.7M1421 192.3h30.7"/><text class="ut" x="1436.3" y="183.3">ministerie</text></g>
<g id="uml-contact-organisatie"><rect x="1464.3" y="185" width="42.4" height="38.3" class="ub"/><path class="us" d="M1464.3 192.3h42.4M1464.3 216h42.4"/><text class="ut" x="1485.5" y="190.7">+contact-organisatie</text><g class="ua"><text x="1465.5" y="198">+soort</text><text x="1465.5" y="203.3">+afkorting</text><text x="1465.5" y="208.6">+oprichtingsdatum</text><text x="1465.5" y="213.9">+opheffingsdatum</text></g></g>
<g id="uml-fractie"><rect x="1470" y="228.3" width="31" height="23.4" class="ub"/><path class="us" d="M1470 236.7h31M1470 244.3h31"/><text class="ut" x="1485.5" y="234.6">fractie</text></g>
<g id="uml-persoon"><rect x="1381" y="160" width="32" height="88.3" class="ub"/><path class="us" d="M1381 166.7h32M1381 240.7h32"/><text class="ut" x="1397" y="165">persoon</text><g class="ua"><text x="1382.2" y="173.1">+titels</text><text x="1382.2" y="178.5">+voornamen</text><text x="1382.2" y="183.9">+achternamen</text><text x="1382.2" y="189.3">+initialen</text><text x="1382.2" y="194.7">+roepnaam</text><text x="1382.2" y="200.1">+geslacht</text><text x="1382.2" y="205.5">+geboortedatum</text><text x="1382.2" y="210.9">+woonplaats</text><text x="1382.2" y="216.3">+geboorteland</text><text x="1382.2" y="221.7">+overlijden</text><text x="1382.2" y="227.1">+e-mail</text><text x="1382.2" y="232.5">+website</text><text x="1382.2" y="237.9">+fax</text></g></g>
<g id="uml-actor"><rect x="1421.7" y="224.3" width="30.8" height="22.4" class="ub"/><path class="us" d="M1421.7 231.7h30.8M1421.7 241.7h30.8"/><text class="ut" x="1437" y="230">actor</text><text class="ua" x="1422.9" y="237.4">+functie</text><text class="um" x="1447" y="237.4">1</text></g>
<g id="uml-kamerlid"><rect x="1330" y="229.3" width="31" height="23" class="ub"/><path class="us" d="M1330 237.3h31M1330 245h31"/><text class="ut" x="1345.5" y="235.5">kamerlid</text></g>
<g id="uml-stemmer"><rect x="1409.3" y="264.3" width="31.4" height="23" class="ub"/><path class="us" d="M1409.3 272.7h31.4M1409.3 280h31.4"/><text class="ut" x="1425" y="270.7">stemmer</text></g>
<g id="uml-stuk"><rect x="1254" y="196.7" width="31" height="22.6" class="ub"/><path class="us" d="M1254 204h31M1254 210.7h31"/><text class="ut" x="1269.5" y="202.4">stuk</text><text class="ua" x="1255.2" y="209.2">-ordernummer</text></g>
<g id="uml-kamerstukdossier"><rect x="1200" y="224" width="36.7" height="55.3" class="ub"/><path class="us" d="M1200 230h36.7M1200 271.7h36.7"/><text class="ut" x="1218.3" y="228.5">kamerstukdossier</text><g class="ua"><text x="1201.2" y="236.7">-titel</text><text x="1201.2" y="242.2">-citeertitel</text><text x="1201.2" y="247.6">-alias</text><text x="1201.2" y="253.1">-wetnummer</text><text x="1201.2" y="258.5">-toevoeging</text><text x="1201.2" y="264">-afgesloten</text><text x="1201.2" y="269.4">-kamers</text></g></g>
</g>

<!-- Cycle connectors -->
<g id="connectors">
<g filter="url(#as)"><use href="#arrow" class="arr" transform="translate(921 447.3) rotate(-30)"/></g>
<g filter="url(#as)"><use href="#arrow" class="arr" transform="translate(1263 447.3) rotate(30)"/></g>
<g filter="url(#as)"><use href="#arrow" class="arr" transform="translate(1434 743.5) rotate(90)"/></g>
<g filter="url(#as)"><use href="#arrow" class="arr" transform="translate(1263 1039.8) rotate(150)"/></g>
<g filter="url(#as)"><use href="#arrow" class="arr" transform="translate(921 1039.8) rotate(210)"/></g>
<g filter="url(#as)"><use href="#arrow" class="arr" transform="translate(750 743.5) rotate(270)"/></g>
</g>

<!-- Nodes -->
<g id="node-logisch-datamodel">
<circle cx="1092" cy="348.5" r="134.5" class="ring" filter="url(#cs)"/>
<circle cx="1092" cy="348.5" r="127" class="bluec"/>
<text class="lbl" x="1092" y="343">Logisch</text>
<text class="lbl" x="1092" y="378">datamodel</text>
</g>
<g id="node-xsd">
<circle cx="1434" cy="546" r="134.5" class="ring" filter="url(#cs)"/>
<circle cx="1434" cy="546" r="127" class="tealc"/>
<text class="lbl" x="1434" y="557">XSD</text>
</g>
<g id="node-wsdl">
<circle cx="1434" cy="941" r="134.5" class="ring" filter="url(#cs)"/>
<circle cx="1434" cy="941" r="127" class="tealc"/>
<text class="lbl" x="1434" y="952">WSDL</text>
</g>
<g id="node-rest">
<circle cx="1092" cy="1138.5" r="134.5" class="ring" filter="url(#cs)"/>
<circle cx="1092" cy="1138.5" r="127" class="tealc"/>
<text class="lbl" x="1092" y="1133">REST +</text>
<text class="lbl" x="1092" y="1168">Json/XML</text>
</g>
<g id="node-odata">
<circle cx="750" cy="941" r="134.5" class="ring" filter="url(#cs)"/>
<circle cx="750" cy="941" r="127" class="tealc"/>
<text class="lbl" x="750" y="935.5">Odata +</text>
<text class="lbl" x="750" y="970.5">Json/XML</text>
</g>
<g id="node-metadata">
<circle cx="750" cy="546" r="134.5" class="ring" filter="url(#cs)"/>
<circle cx="750" cy="546" r="127" class="tealc"/>
<text class="lbl" x="750" y="557">$metadata</text>
</g>
</svg>
